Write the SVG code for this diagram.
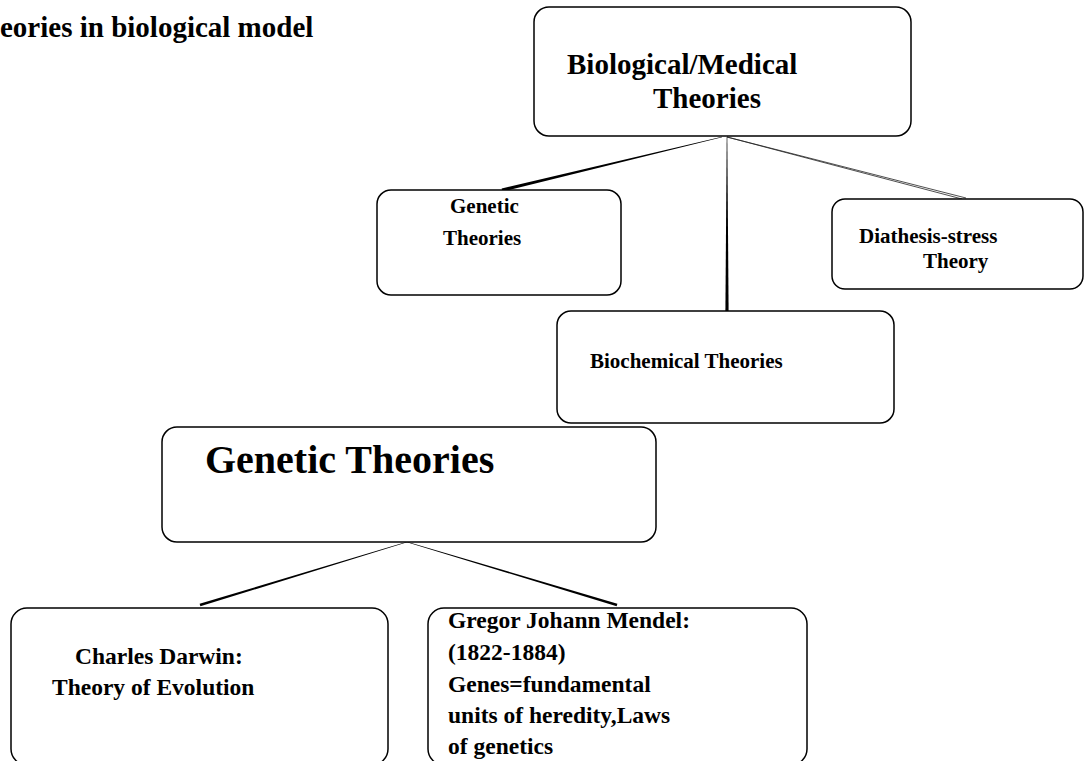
<svg xmlns="http://www.w3.org/2000/svg" width="1086" height="761" viewBox="0 0 1086 761">
<style>
.box{fill:#fff;stroke:#000;stroke-width:1.5}
.t{font-family:"Liberation Serif","Times New Roman",serif;font-weight:bold;fill:#000}
.conn{fill:#000;stroke:none}
.thin{stroke:#222;stroke-width:0.8;fill:none}
</style>
<rect width="1086" height="761" fill="#fff"/>
<text class="t" x="0" y="37" font-size="29">eories in biological model</text>
<g id="connectors">
<polygon class="conn" points="721.93,136.71 722.07,137.29 502.37,191.56 501.63,188.44"/>
<polygon class="conn" points="726.7,137 727.3,137 728.6,311 725.4,311"/>
<line class="thin" x1="727" y1="137" x2="962" y2="199"/>
<line class="thin" x1="727" y1="137" x2="966" y2="198"/>
<polygon class="conn" points="406.91,541.71 407.09,542.29 200.38,606.24 199.62,603.76"/>
<polygon class="conn" points="407.09,541.71 406.91,542.29 616.63,606.25 617.37,603.76"/>
</g>
<g id="node-biological">
<rect class="box" x="534" y="7" width="377" height="129" rx="15"/>
<text class="t" x="567" y="74" font-size="29">Biological/Medical</text>
<text class="t" x="653" y="108" font-size="29">Theories</text>
</g>
<g id="node-genetic">
<rect class="box" x="377" y="190" width="244" height="105" rx="14"/>
<text class="t" x="450" y="213" font-size="21">Genetic</text>
<text class="t" x="443" y="245" font-size="21">Theories</text>
</g>
<g id="node-diathesis">
<rect class="box" x="832" y="199" width="251" height="90" rx="13"/>
<text class="t" x="859" y="243" font-size="21">Diathesis-stress</text>
<text class="t" x="923" y="268" font-size="21">Theory</text>
</g>
<g id="node-biochemical">
<rect class="box" x="557" y="311" width="337" height="112" rx="14"/>
<text class="t" x="590" y="368" font-size="21">Biochemical Theories</text>
</g>
<g id="node-genetic-theories">
<rect class="box" x="162" y="427" width="494" height="115" rx="15"/>
<text class="t" x="205" y="473" font-size="40">Genetic Theories</text>
</g>
<g id="node-darwin">
<rect class="box" x="11" y="608" width="377" height="157" rx="16"/>
<text class="t" x="75" y="664" font-size="23.5">Charles Darwin:</text>
<text class="t" x="52" y="695" font-size="23.5">Theory of Evolution</text>
</g>
<g id="node-mendel">
<rect class="box" x="428" y="608" width="379" height="157" rx="16"/>
<text class="t" x="448" y="628" font-size="23.5">Gregor Johann Mendel:</text>
<text class="t" x="448" y="660" font-size="23.5">(1822-1884)</text>
<text class="t" x="448" y="692" font-size="23.5">Genes=fundamental</text>
<text class="t" x="448" y="723" font-size="23.5">units of heredity,Laws</text>
<text class="t" x="448" y="754" font-size="23.5">of genetics</text>
</g>
</svg>
